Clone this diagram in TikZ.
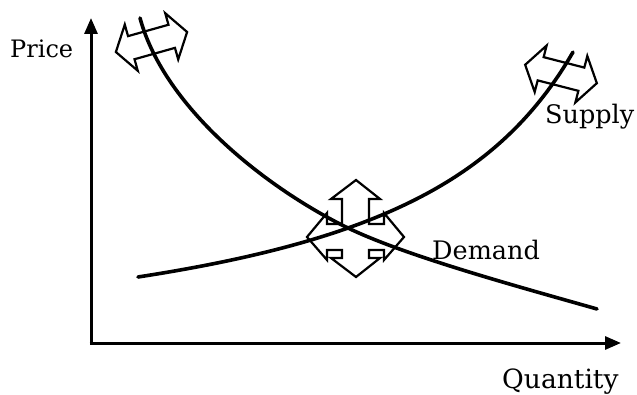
\documentclass[tikz,border=0pt]{standalone}
\usepackage{fontspec}
\setmainfont{DejaVu Serif}
\usetikzlibrary{arrows.meta}
\tikzset{
  axisline/.style={line width=3pt, -{Triangle[length=16pt,width=13pt]}},
  curveline/.style={line width=3.6pt, line cap=round, line join=round},
  blockarrow/.style={line width=2.2pt, line join=miter},
  lbl/.style={inner sep=0pt, anchor=base west, font=\fontsize{25.5}{30}\selectfont}
}
\newcommand{\dblarrowpath}{(-37,0) -- (-21,-24) -- (-21,-12) -- (21,-12) -- (21,-24) -- (37,0) -- (21,24) -- (21,12) -- (-21,12) -- (-21,24) -- cycle}
\begin{document}
\begin{tikzpicture}[x=1pt,y=-1pt]
\useasboundingbox (0,0) rectangle (637,395);
% axes
\coordinate (origin) at (91,343);
\coordinate (ytip) at (91,18);
\coordinate (xtip) at (621,343);
\draw[axisline] (origin) -- (ytip);
\draw[axisline] ([xshift=-1.5pt]origin) -- (xtip);
% equilibrium point
\coordinate (eq) at (348,228);
% demand curve
\coordinate (dstart) at (140,18);
\coordinate (dend) at (597,309);
\draw[curveline] (dstart) .. controls (165,110) and (270,190) .. (eq)
  .. controls (408,257) and (527,289) .. (dend);
% supply curve
\draw[curveline] plot[domain=138:573, samples=80, smooth] (\x, {277 - 593*(100/(758-\x) - 100/620)});
% block arrows
\begin{scope}[shift={(151.5,42)}, rotate=15.7]
  \draw[blockarrow] \dblarrowpath;
\end{scope}
\begin{scope}[shift={(561,74)}, rotate=-14.4]
  \draw[blockarrow] \dblarrowpath;
\end{scope}
\draw[blockarrow] (356,180) -- (380,199) -- (369,199) -- (369,224) -- (384,224) -- (384,213) -- (404,237) -- (384,260) -- (384,250) -- (369,250) -- (369,258) -- (380,258) -- (356,277) -- (331,258) -- (342,258) -- (342,250) -- (327,250) -- (327,260) -- (307,237) -- (327,213) -- (327,224) -- (342,224) -- (342,199) -- (331,199) -- cycle;
% labels
\node[lbl, font=\fontsize{24}{28}\selectfont] (price) at (10,58) {Price};
\node[lbl] (supply) at (545,124) {Supply};
\node[lbl] (demand) at (432,260) {Demand};
\node[lbl, font=\fontsize{26.5}{31}\selectfont] (quantity) at (502,388) {Quantity};
\end{tikzpicture}
\end{document}
